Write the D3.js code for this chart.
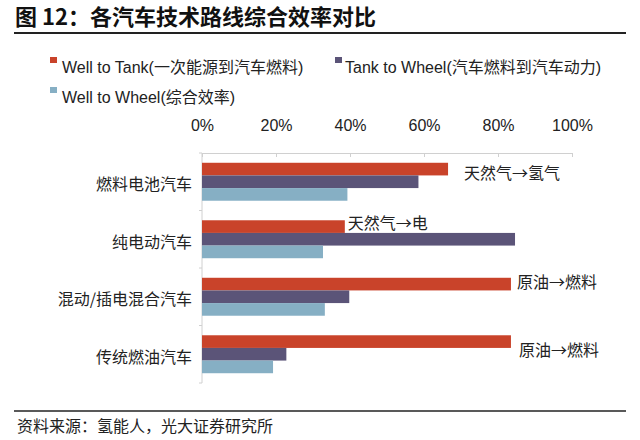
<!DOCTYPE html>
<html><head><meta charset="utf-8">
<script src="https://cdn.jsdelivr.net/npm/d3@7"></script>
<style>
body{margin:0;background:#fff;}
text{font-family:"Liberation Sans","Noto Sans CJK SC",Arial,sans-serif;}
</style></head>
<body><svg id="c" width="640" height="440"></svg>
<script>
const categories = ["燃料电池汽车","纯电动汽车","混动/插电混合汽车","传统燃油汽车"];
const seriesNames = ["Well to Tank(一次能源到汽车燃料)","Tank to Wheel(汽车燃料到汽车动力)","Well to Wheel(综合效率)"];
const wellToTank = [66.5, 38.6, 83.5, 83.5];
const tankToWheel = [58.5, 84.6, 39.8, 22.8];
const wellToWheel = [39.3, 32.7, 33.2, 19.2];
const annotations = ["天然气→氢气","天然气→电","原油→燃料","原油→燃料"];
const tickValues = [0,20,40,60,80,100];
const colors = ["#C9432A","#5B5478","#86AFC4"];
// layout-only offsets for the annotation labels
const annoDx = [16,3,6,8];
const annoDy = [4,-3,-2,9];

const svg = d3.select("#c");
const ff = '"Liberation Sans","Noto Sans CJK SC",sans-serif';
const cjk = '"Noto Sans CJK SC","Liberation Sans",sans-serif';

// Title
svg.append("text").attr("x",15).attr("y",25).attr("font-size",22).attr("font-weight","bold")
  .attr("fill","#111").style("font-family",cjk)
  .text("图 12：各汽车技术路线综合效率对比");
svg.append("line").attr("x1",14).attr("x2",626).attr("y1",33).attr("y2",33).attr("stroke","#222").attr("stroke-width",2);

// Legend
const legendPos = [[50,57],[335,57],[50,87]];
seriesNames.forEach((n,i)=>{
  const g = svg.append("g").attr("transform",`translate(${legendPos[i][0]},${legendPos[i][1]})`);
  g.append("rect").attr("width",7).attr("height",6).attr("fill",colors[i]);
  g.append("text").attr("x",i===1?10:12).attr("y",16).attr("font-size",16).attr("fill","#222").text(n);
});

// Scales
const x = d3.scaleLinear().domain([0,100]).range([202,572]);
const y = d3.scaleBand().domain(categories).range([153,383]).paddingInner(0.34).paddingOuter(0.17);
const ySub = d3.scaleBand().domain(d3.range(3)).range([0,y.bandwidth()]);
const seriesVals = [wellToTank, tankToWheel, wellToWheel];

// Top axis
const axTop = d3.axisTop(x).tickValues(tickValues).tickFormat(d=>d+"%").tickSizeInner(-4).tickSizeOuter(0).tickPadding(22);
const gx = svg.append("g").attr("transform","translate(0,153)").call(axTop);
gx.select(".domain").attr("stroke","#d0d0d0");
gx.selectAll(".tick line").attr("stroke","#d0d0d0");
gx.selectAll(".tick text").attr("font-size",16).attr("fill","#222").style("font-family",ff);

// Left axis line + boundary ticks
const boundaries = d3.range(categories.length+1).map(i=>153 + i*y.step());
svg.append("line").attr("x1",202).attr("x2",202).attr("y1",153).attr("y2",383).attr("stroke","#d0d0d0");
svg.selectAll(".bt").data(boundaries).enter().append("line")
  .attr("x1",199).attr("x2",202).attr("y1",d=>d).attr("y2",d=>d).attr("stroke","#d0d0d0");

// Bars
categories.forEach((c,ci)=>{
  seriesVals.forEach((arr,si)=>{
    svg.append("rect").attr("x",x(0)).attr("y",y(c)+ySub(si))
      .attr("width",x(arr[ci])-x(0)).attr("height",ySub.bandwidth())
      .attr("fill",colors[si]);
  });
});

// Category labels
svg.selectAll(".cat").data(categories).enter().append("text")
  .attr("x",192).attr("y",d=>y(d)+y.bandwidth()/2+3).attr("dy","0.35em")
  .attr("text-anchor","end").attr("font-size",16).attr("fill","#222")
  .style("font-family",cjk).text(d=>d);

// Annotations
svg.selectAll(".an").data(annotations).enter().append("text")
  .attr("x",(d,i)=>x(wellToTank[i])+annoDx[i])
  .attr("y",(d,i)=>y(categories[i])+ySub(0)+ySub.bandwidth()/2+annoDy[i]).attr("dy","0.35em")
  .attr("font-size",16).attr("fill","#222")
  .style("font-family",cjk).text(d=>d);

// Footer
svg.append("line").attr("x1",14).attr("x2",626).attr("y1",411).attr("y2",411).attr("stroke","#222").attr("stroke-width",1.5);
svg.append("text").attr("x",17).attr("y",432).attr("font-size",16).attr("fill","#222")
  .style("font-family",cjk).text("资料来源：氢能人，光大证券研究所");
</script></body></html>
